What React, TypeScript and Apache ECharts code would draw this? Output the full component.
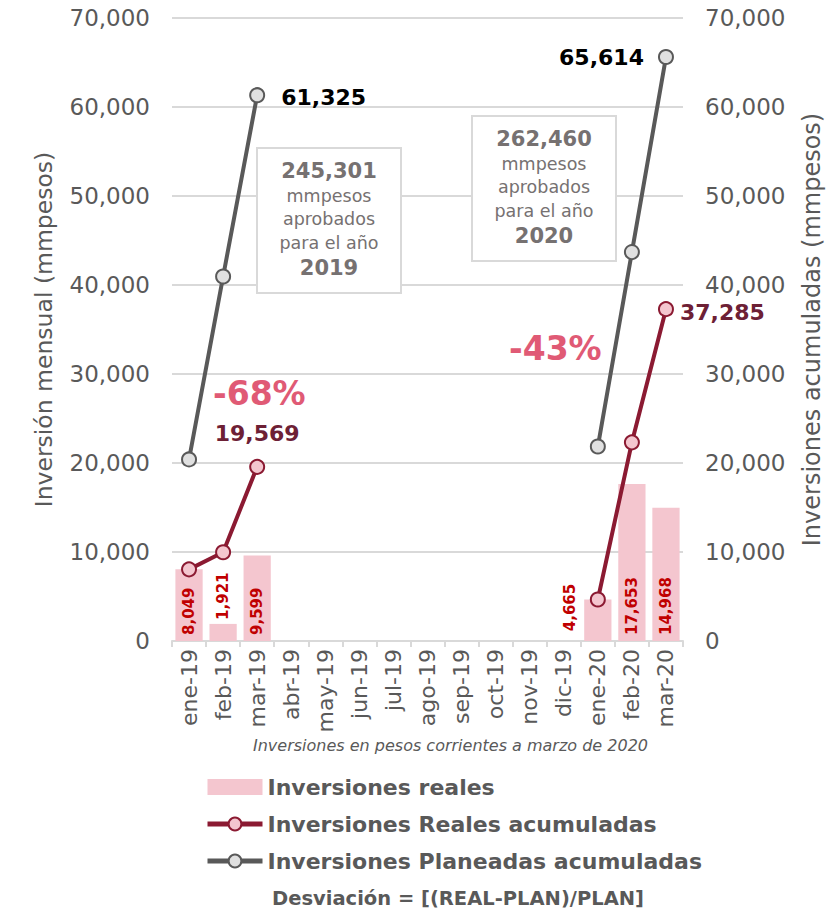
import React, { useEffect, useRef } from "react";
import * as echarts from "echarts";

const categories = ["ene-19","feb-19","mar-19","abr-19","may-19","jun-19","jul-19","ago-19","sep-19","oct-19","nov-19","dic-19","ene-20","feb-20","mar-20"];
const monthlyReal = [8049, 1921, 9599, null, null, null, null, null, null, null, null, null, 4665, 17653, 14968];
const realAcum = [8049, 9970, 19569, null, null, null, null, null, null, null, null, null, 4665, 22318, 37285];
const planAcum = [20400, 40950, 61325, null, null, null, null, null, null, null, null, null, 21850, 43700, 65614];
const deviations = ["-68%", "-43%"];
const approved = ["245,301", "262,460"];
const years = ["2019", "2020"];

const FONT = "DejaVu Sans";
const GRAY = "#595959";
const fmt = (v: number) => v.toLocaleString("en-US");

export default function App() {
  const ref = useRef<HTMLDivElement>(null);
  useEffect(() => {
    document.body.style.margin = "0";
    const chart = echarts.init(ref.current!, null, { renderer: "svg" });
    const barData = monthlyReal.map((v, i) => {
      if (v == null) return null;
      let label: any = { position: "insideBottom", rotate: 90, align: "left", verticalAlign: "middle", distance: 6 };
      if (i === 1) label = { position: "top", rotate: 90, align: "left", verticalAlign: "middle", distance: 4 };
      if (i === 12) label = { position: [-14, 8], rotate: 90, align: "center", verticalAlign: "middle" };
      return { value: v, label };
    });
    const realData = realAcum.map((v, i) => {
      if (v == null) return null;
      if (i === 2) return { value: v, label: { show: true, position: "top", distance: 14 } };
      if (i === 14) return { value: v, label: { show: true, position: "right", distance: 6, offset: [0, 3] } };
      return v;
    });
    const planData = planAcum.map((v, i) => {
      if (v == null) return null;
      if (i === 2) return { value: v, label: { show: true, position: "right", distance: 16, offset: [0, 2] } };
      if (i === 14) return { value: v, label: { show: true, position: "left", distance: 14 } };
      return v;
    });
    const boxText = (k: number) =>
      `{b|${approved[k]}}\n{n|mmpesos}\n{n|aprobados}\n{n|para el año}\n{b|${years[k]}}`;
    const rich = {
      b: { fontFamily: FONT, fontSize: 21, fontWeight: "bold", fill: "#767171", lineHeight: 27, align: "center" },
      n: { fontFamily: FONT, fontSize: 17.5, fill: "#767171", lineHeight: 23.5, align: "center" },
    };
    const box = (left: number, top: number, k: number) => ({
      type: "group", left, top,
      children: [
        { type: "rect", z: 2, shape: { x: 0, y: 0, width: 144, height: 145 }, style: { fill: "#fff", stroke: "#d9d9d9", lineWidth: 2 } },
        { type: "text", z: 3, x: 72, y: 9, style: { text: boxText(k), rich, align: "center", verticalAlign: "top" } },
      ],
    });
    chart.setOption({
      animation: false,
      textStyle: { fontFamily: FONT },
      grid: { left: 172, right: 150, top: 18, bottom: 275 },
      legend: {
        orient: "vertical",
        left: 205,
        top: 776,
        padding: 0,
        itemWidth: 55,
        itemHeight: 16,
        itemGap: 15,
        textStyle: { fontFamily: FONT, fontSize: 22, fontWeight: "bold", color: GRAY },
        data: [
          { name: "Inversiones reales", icon: "rect" },
          { name: "Inversiones Reales acumuladas", lineStyle: { width: 5 } },
          { name: "Inversiones Planeadas acumuladas", lineStyle: { width: 5 } },
        ],
      },
      xAxis: {
        type: "category",
        data: categories,
        boundaryGap: true,
        axisLine: { lineStyle: { color: "#d9d9d9", width: 2 } },
        axisTick: { show: true, length: 6, lineStyle: { color: "#d9d9d9", width: 2 } },
        axisLabel: { rotate: 90, fontSize: 22, color: GRAY, margin: 8, fontFamily: FONT, interval: 0 },
      },
      yAxis: [
        {
          type: "value", min: 0, max: 70000, interval: 10000,
          name: "Inversión mensual (mmpesos)", nameLocation: "middle", nameGap: 116,
          nameTextStyle: { fontSize: 23.5, color: GRAY, fontFamily: FONT },
          axisLabel: { fontSize: 23, color: GRAY, margin: 22, formatter: (v: number) => fmt(v) },
          splitLine: { lineStyle: { color: "#d9d9d9", width: 2 } },
          axisLine: { show: false }, axisTick: { show: false },
        },
        {
          type: "value", min: 0, max: 70000, interval: 10000,
          name: "Inversiones acumuladas (mmpesos)", nameLocation: "middle", nameGap: 117,
          nameTextStyle: { fontSize: 24, color: GRAY, fontFamily: FONT },
          axisLabel: { fontSize: 23, color: GRAY, margin: 22, formatter: (v: number) => fmt(v) },
          splitLine: { show: false },
          axisLine: { show: false }, axisTick: { show: false },
        },
      ],
      graphic: [
        box(256, 147, 0),
        box(471, 115, 1),
        { type: "text", z: 10, left: 213, top: 377, style: { text: deviations[0], fontFamily: FONT, fontSize: 33, fontWeight: "bold", fill: "#e05a75" } },
        { type: "text", z: 10, left: 509, top: 332, style: { text: deviations[1], fontFamily: FONT, fontSize: 33, fontWeight: "bold", fill: "#e05a75" } },
        { type: "text", left: 253, top: 737, style: { text: "Inversiones en pesos corrientes a marzo de 2020", fontFamily: FONT, fontSize: 16, fontStyle: "italic", fill: GRAY } },
        { type: "text", left: 272, top: 888, style: { text: "Desviación = [(REAL-PLAN)/PLAN]", fontFamily: FONT, fontSize: 19.5, fontWeight: "bold", fill: GRAY } },
      ],
      series: [
        {
          name: "Inversiones reales",
          type: "bar",
          yAxisIndex: 0,
          barWidth: "80%",
          z: 4,
          itemStyle: { color: "#f4c6cf" },
          label: { show: true, fontSize: 15, fontWeight: "bold", color: "#c00000", fontFamily: FONT, formatter: (p: any) => fmt(p.value) },
          data: barData,
        },
        {
          name: "Inversiones Reales acumuladas",
          type: "line",
          yAxisIndex: 1,
          z: 6,
          connectNulls: false,
          symbol: "circle",
          symbolSize: 14,
          lineStyle: { color: "#8b1a32", width: 4 },
          itemStyle: { color: "#f4c6cf", borderColor: "#8b1a32", borderWidth: 2 },
          label: { show: false, fontSize: 22, fontWeight: "bold", color: "#6d2035", fontFamily: FONT, formatter: (p: any) => fmt(p.value) },
          data: realData,
        },
        {
          name: "Inversiones Planeadas acumuladas",
          type: "line",
          yAxisIndex: 1,
          z: 5,
          connectNulls: false,
          symbol: "circle",
          symbolSize: 14,
          lineStyle: { color: "#595959", width: 4 },
          itemStyle: { color: "#e0e0e0", borderColor: "#595959", borderWidth: 2 },
          label: { show: false, fontSize: 22, fontWeight: "bold", color: "#000", fontFamily: FONT, formatter: (p: any) => fmt(p.value) },
          data: planData,
        },
      ],
    });
    return () => chart.dispose();
  }, []);
  return <div ref={ref} style={{ width: 833, height: 916 }} />;
}
